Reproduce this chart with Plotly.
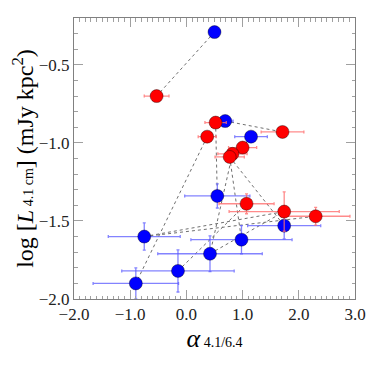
import plotly.graph_objects as go

# blue series
blue_x = [0.50, 0.69, 1.15, 0.55, -0.75, 0.98, 1.74, 0.42, -0.15, -0.90]
blue_y = [-0.29, -0.86, -0.96, -1.34, -1.60, -1.62, -1.53, -1.71, -1.82, -1.90]
blue_xerr = [0.0, 0.14, 0.29, 0.58, 0.64, 0.90, 0.65, 0.93, 1.00, 0.76]
blue_yerr = [0.0, 0.0, 0.0, 0.077, 0.087, 0.09, 0.085, 0.115, 0.135, 0.10]

# red series
red_x = [-0.53, 0.52, 0.37, 1.71, 1.00, 0.82, 0.77, 1.07, 1.74, 2.30]
red_y = [-0.70, -0.87, -0.96, -0.93, -1.03, -1.07, -1.09, -1.39, -1.44, -1.47]
red_xerr = [0.22, 0.19, 0.16, 0.38, 0.25, 0.26, 0.26, 0.49, 0.98, 0.61]
red_yerr = [0.0, 0.02, 0.0, 0.02, 0.02, 0.03, 0.03, 0.064, 0.126, 0.057]

# dotted connections between points (series, index) -> (series, index)
links = [("B", 0, "R", 0), ("B", 1, "R", 3), ("R", 1, "B", 3), ("R", 2, "B", 9),
         ("B", 4, "R", 9), ("R", 6, "B", 5), ("R", 5, "B", 7), ("R", 6, "B", 6),
         ("B", 4, "R", 8), ("B", 8, "R", 7), ("B", 7, "R", 8), ("B", 2, "R", 4)]

x_ticks = [-2.0, -1.0, 0.0, 1.0, 2.0, 3.0]
y_ticks = [-2.0, -1.5, -1.0, -0.5]

SERIF = "Liberation Serif, DejaVu Serif, serif"

pts = {"B": (blue_x, blue_y), "R": (red_x, red_y)}
lx, ly = [], []
for s1, i1, s2, i2 in links:
    lx += [pts[s1][0][i1], pts[s2][0][i2], None]
    ly += [pts[s1][1][i1], pts[s2][1][i2], None]

fig = go.Figure()
fig.add_trace(go.Scatter(x=lx, y=ly, mode="lines",
                         line=dict(color="#707070", width=1, dash="dot"),
                         hoverinfo="skip"))

for xs, ys, xe, ye, col, ecol in [
        (blue_x, blue_y, blue_xerr, blue_yerr, "#0000ff", "rgba(90,90,255,0.75)"),
        (red_x, red_y, red_xerr, red_yerr, "#ff0000", "rgba(255,110,110,0.8)")]:
    fig.add_trace(go.Scatter(
        x=xs, y=ys, mode="markers",
        marker=dict(size=13, color=col, line=dict(color="rgba(0,0,0,0.55)", width=0.7)),
        error_x=dict(type="data", array=xe, color=ecol, thickness=1.3, width=1.5),
        error_y=dict(type="data", array=ye, color=ecol, thickness=1.3, width=1.5),
    ))

axis_common = dict(
    showgrid=False, zeroline=False, showline=True, linecolor="#808080", linewidth=1,
    mirror="ticks", ticks="inside", ticklen=9, tickcolor="#a0a0a0", tickwidth=1,
    tickformat=".1f", automargin=False,
    tickfont=dict(family=SERIF, size=17, color="#222"),
    minor=dict(ticks="inside", ticklen=3.5, dtick=0.1, tickcolor="#a0a0a0", tickwidth=1),
)

fig.update_xaxes(range=[-2.0, 3.0], tickvals=x_ticks, **axis_common,
                 title=dict(text="<i>α</i><span style='font-size:14px'> 4.1/6.4</span>",
                            font=dict(family=SERIF, size=26, color="#000"), standoff=0))
fig.update_yaxes(range=[-2.0, -0.2], tickvals=y_ticks, **axis_common,
                 title=dict(text="log [<i>L</i><span style='font-size:14px'> 4.1 cm</span>] (mJy kpc<sup>2</sup>)",
                            font=dict(family=SERIF, size=24, color="#000"), standoff=2))

# page body adds an 8px offset, so margins are shifted to keep the plot box in place
fig.update_layout(width=374, height=374, showlegend=False,
                  plot_bgcolor="white", paper_bgcolor="white",
                  margin=dict(l=66, r=27, t=10, b=83))

fig.write_html("out.html")
